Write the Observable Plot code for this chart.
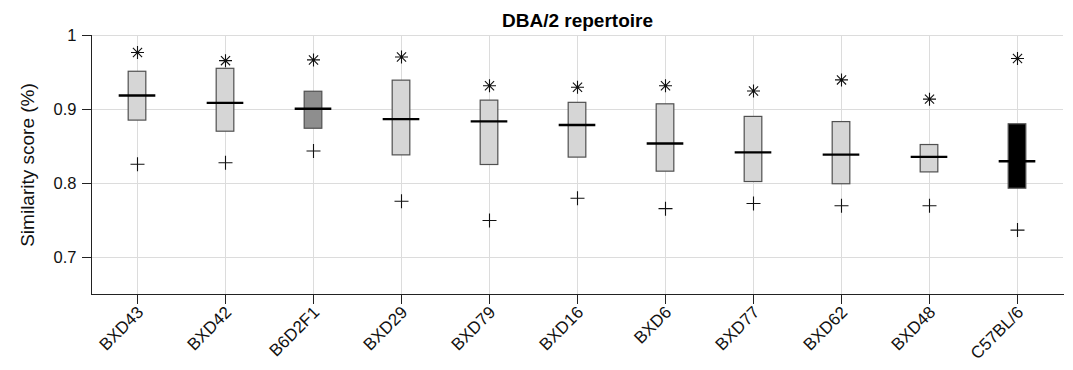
<!DOCTYPE html>
<html>
<head>
<meta charset="utf-8">
<script src="https://cdn.jsdelivr.net/npm/d3@7"></script>
<script src="https://cdn.jsdelivr.net/npm/@observablehq/plot@0.6"></script>
<style>
  html, body { margin: 0; padding: 0; background: #fff; }
  #chart svg { display: block; }
  #chart g[aria-label="y-axis tick label"] text { font-size: 16.5px !important; }
  #chart g[aria-label="x-axis tick label"] text { font-size: 17px !important; }
  #chart g[aria-label="y-axis label"] text { font-size: 19px !important; }
  #chart g[aria-label="title"] text { font-size: 19px !important; }
</style>
</head>
<body>
<div id="chart"></div>
<script>
const title = "DBA/2 repertoire";
const yLabel = "Similarity score (%)";
const strains = ["BXD43","BXD42","B6D2F1","BXD29","BXD79","BXD16","BXD6","BXD77","BXD62","BXD48","C57BL/6"];
const q3      = [0.951, 0.955, 0.924, 0.939, 0.912, 0.909, 0.907, 0.890, 0.883, 0.852, 0.880];
const median  = [0.919, 0.909, 0.901, 0.887, 0.884, 0.879, 0.854, 0.842, 0.839, 0.836, 0.830];
const q1      = [0.885, 0.870, 0.874, 0.838, 0.825, 0.835, 0.816, 0.802, 0.799, 0.815, 0.793];
const maxVal  = [0.977, 0.966, 0.967, 0.971, 0.932, 0.930, 0.932, 0.925, 0.940, 0.914, 0.969];
const minVal  = [0.826, 0.828, 0.844, 0.776, 0.750, 0.780, 0.766, 0.773, 0.770, 0.770, 0.737];
const yTicks  = [0.7, 0.8, 0.9, 1];

const data = strains.map((s, i) => ({strain: s, q1: q1[i], q3: q3[i], median: median[i], max: maxVal[i], min: minVal[i]}));

const boxFill = s => s === "C57BL/6" ? "#000" : s === "B6D2F1" ? "#8e8e8e" : "#d6d6d6";

const asterisk8 = {
  draw(ctx, size) {
    const r = Math.sqrt(size / Math.PI);
    const d = r * Math.SQRT1_2;
    ctx.moveTo(-r, 0); ctx.lineTo(r, 0);
    ctx.moveTo(0, -r); ctx.lineTo(0, r);
    ctx.moveTo(-d, -d); ctx.lineTo(d, d);
    ctx.moveTo(-d, d); ctx.lineTo(d, -d);
  }
};
const plusSym = {
  draw(ctx, size) {
    const r = Math.sqrt(size / Math.PI);
    ctx.moveTo(-r, 0); ctx.lineTo(r, 0);
    ctx.moveTo(0, -r); ctx.lineTo(0, r);
  }
};

const W = 1073, H = 370;
const mL = 91, mR = 10, mT = 35, mB = 76;
const band = (W - mL - mR) / strains.length;

const chart = Plot.plot({
  width: W,
  height: H,
  marginLeft: mL,
  marginRight: mR,
  marginTop: mT,
  marginBottom: mB,
  style: {fontFamily: "'Liberation Sans', Arial, Helvetica, sans-serif", fontSize: "14px", color: "#111", background: "#fff"},
  x: {domain: strains, padding: 0, label: null},
  y: {domain: [0.65, 1], label: null},
  marks: [
    Plot.gridY(yTicks, {stroke: "#dcdcdc", strokeOpacity: 1}),
    Plot.gridX(strains, {stroke: "#dcdcdc", strokeOpacity: 1}),
    Plot.frame({anchor: "left", stroke: "#222"}),
    Plot.frame({anchor: "bottom", stroke: "#222"}),
    Plot.axisY(yTicks, {
      tickFormat: d => String(d),
      tickSize: 9,
      tickPadding: 6,
      stroke: "#222",
      fill: "#111",
      label: yLabel,
      labelAnchor: "center",
      labelArrow: "none",
      labelOffset: 71
    }),
    Plot.axisX({
      tickSize: 10,
      tickFormat: () => "",
      stroke: "#222",
      label: null
    }),
    Plot.axisX({
      tickSize: 0,
      tickRotate: -45,
      tickPadding: 15,
      dx: 3,
      fill: "#111",
      label: null
    }),
    Plot.barY(data, {
      x: "strain", y1: "q1", y2: "q3",
      fill: d => boxFill(d.strain),
      stroke: "#505050", strokeWidth: 1.2,
      insetLeft: (band - 18) / 2, insetRight: (band - 18) / 2
    }),
    Plot.tickY(data, {
      x: "strain", y: "median",
      stroke: "#000", strokeWidth: 2.4,
      insetLeft: (band - 37) / 2, insetRight: (band - 37) / 2
    }),
    Plot.dot(data, {x: "strain", y: "max", symbol: asterisk8, r: 6.5, fill: "none", stroke: "#111", strokeWidth: 1.1}),
    Plot.dot(data, {x: "strain", y: "min", symbol: plusSym, r: 7, fill: "none", stroke: "#111", strokeWidth: 1.1}),
    Plot.text([title], {frameAnchor: "top", lineAnchor: "top", dy: -22, fontSize: 19, fontWeight: "bold", fill: "#000", ariaLabel: "title"})
  ]
});
document.getElementById("chart").appendChild(chart);
</script>
</body>
</html>
